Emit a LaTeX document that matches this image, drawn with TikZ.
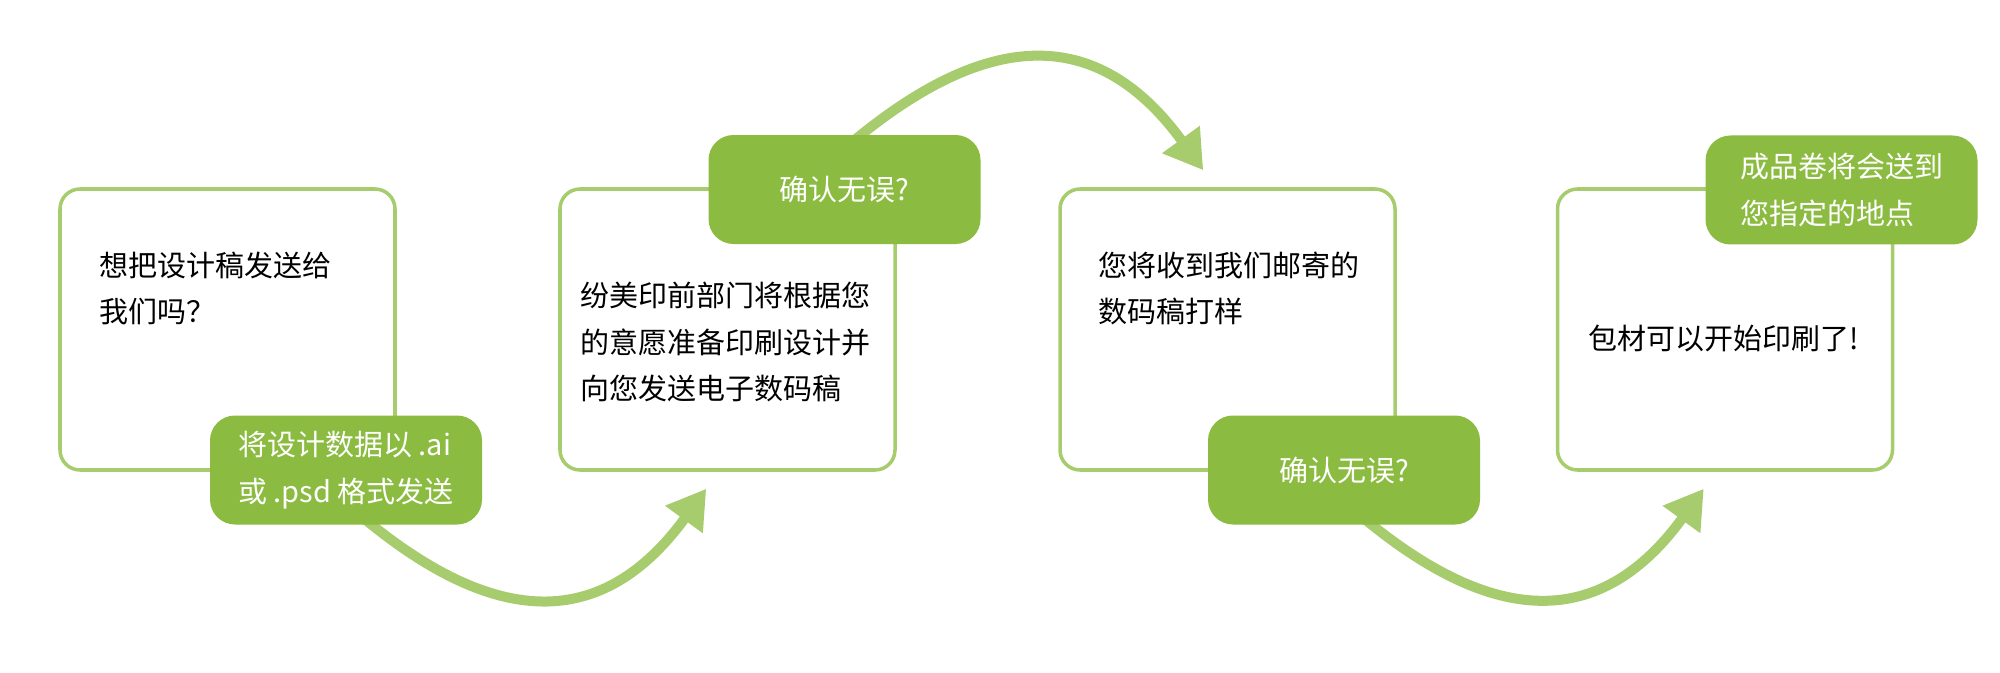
\documentclass[tikz,border=0pt]{standalone}
\usepackage{fontspec}
\newfontfamily\cjk{Noto Sans CJK SC}
\usetikzlibrary{arrows.meta,backgrounds}
\definecolor{leaf}{RGB}{166,204,110}
\definecolor{moss}{RGB}{139,187,64}

\begin{document}
\begin{tikzpicture}[
  box/.style={draw=leaf,line width=1pt,rounded corners=0.2cm,minimum width=3.35cm,minimum height=2.81cm,inner sep=0},
  tag/.style={fill=moss,rounded corners=0.25cm,minimum width=2.72cm,minimum height=1.09cm,inner sep=0,text=white,align=left,font={\cjk\fontsize{8.25pt}{13.2pt}\selectfont}},
  txt/.style={inner sep=0,align=left,anchor=west,font={\cjk\fontsize{8.25pt}{13.2pt}\selectfont}},
  flow/.style={leaf,line width=0.1cm,-{Triangle[length=0.38cm,width=0.44cm]},looseness=1.3}]
\useasboundingbox (0,0) rectangle (20,6.72);

\node[box] (box1) at (2.275,3.425) {};
\node[box] (box2) at (7.275,3.425) {};
\node[box] (box3) at (12.275,3.425) {};
\node[box] (box4) at (17.25,3.425) {};

\node[txt] (t1) at (0.99,3.835) {想把设计稿发送给\\我们吗？};
\node[txt] (t2) at (5.80,3.30) {纷美印前部门将根据您\\的意愿准备印刷设计并\\向您发送电子数码稿};
\node[txt] (t3) at (10.98,3.835) {您将收到我们邮寄的\\数码稿打样};
\node[txt,anchor=center] (t4) at (17.24,3.34) {包材可以开始印刷了!};

\node[tag] (lab1) at (3.46,2.02) {将设计数据以 .ai\\或 .psd 格式发送};
\node[tag] (lab2) at (8.445,4.825) {确认无误?};
\node[tag] (lab3) at (13.44,2.02) {确认无误?};
\node[tag] (lab4) at (18.415,4.82) {成品卷将会送到\\您指定的地点};

\coordinate (tip1) at ([shift={(1.48,-0.17)}]box2.south west);
\coordinate (tip2) at ([shift={(1.45,0.17)}]box3.north west);
\coordinate (tip3) at ([shift={(1.48,-0.17)}]box4.south west);

\begin{scope}[on background layer]
\draw[flow] ([xshift=0.14cm,yshift=0.1cm]lab1.south) to[out=-40,in=-126] (tip1);
\draw[flow] ([xshift=0.05cm,yshift=-0.1cm]lab2.north) to[out=40,in=126] (tip2);
\draw[flow] ([xshift=0.16cm,yshift=0.1cm]lab3.south) to[out=-40,in=-126] (tip3);
\end{scope}
\end{tikzpicture}
\end{document}
